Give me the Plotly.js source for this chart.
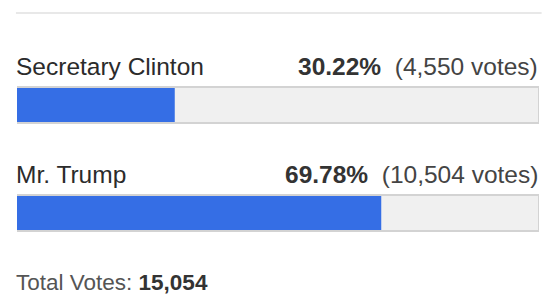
<!DOCTYPE html>
<html>
<head>
<meta charset="utf-8">
<script src="https://cdn.plot.ly/plotly-3.0.1.min.js"></script>
<style>html,body{margin:0;padding:0;background:#fff;}#chart{width:550px;height:306px;}</style>
</head>
<body>
<div id="chart"></div>
<script>
// Data
const candidates = ["Secretary Clinton", "Mr. Trump"];
const percents = [30.22, 69.78];
const votes = [4550, 10504];
const totalVotes = 15054;
const fullScale = [100, 100];

const yPos = candidates.map((c, i) => candidates.length - 1 - i); // Clinton on top
const FONT = "'Liberation Sans', Arial, Helvetica, sans-serif";
const fmt = n => n.toLocaleString("en-US");

const traces = [
  {
    type: "bar", orientation: "h",
    x: fullScale, y: yPos, width: 1/3,
    marker: {color: "#f0f0f0", line: {color: "#d3d3d3", width: 2}},
    hoverinfo: "skip", showlegend: false
  },
  {
    type: "bar", orientation: "h",
    x: percents, y: yPos, width: 0.315,
    marker: {color: "#356ee5", line: {width: 0}},
    text: candidates, hoverinfo: "text", textposition: "none", showlegend: false
  }
];

const annotations = [];
candidates.forEach((c, i) => {
  annotations.push({
    xref: "x", yref: "y", x: 0, y: yPos[i], xanchor: "left", yanchor: "bottom",
    xshift: -3, yshift: 23, showarrow: false, text: c,
    font: {family: FONT, size: 24.5, color: "#2b2b2b"}
  });
  annotations.push({
    xref: "x", yref: "y", x: 100, y: yPos[i], xanchor: "right", yanchor: "bottom",
    xshift: 1, yshift: 23, showarrow: false,
    text: "<b>" + percents[i].toFixed(2) + "%</b>\u00a0\u00a0<span style='color:#444'>(" + fmt(votes[i]) + " votes)</span>",
    font: {family: FONT, size: 24.5, color: "#333333"}
  });
});
annotations.push({
  xref: "paper", yref: "paper", x: 0, y: 0, xanchor: "left", yanchor: "bottom",
  xshift: -3, yshift: 9, showarrow: false,
  text: "Total Votes: <b><span style='color:#333'>" + fmt(totalVotes) + "</span></b>",
  font: {family: FONT, size: 22.5, color: "#555555"}
});

const layout = {
  width: 550, height: 306,
  margin: {l: 17, r: 11, t: 0, b: 0, pad: 0},
  paper_bgcolor: "#ffffff", plot_bgcolor: "#ffffff",
  barmode: "overlay",
  xaxis: {range: [0, 100], visible: false, fixedrange: true},
  yaxis: {range: [-0.8611, 1.9722], visible: false, fixedrange: true},
  annotations: annotations,
  shapes: [{
    type: "line", xref: "paper", yref: "paper",
    x0: -0.002, x1: 1.005, y0: 1 - 13/306, y1: 1 - 13/306,
    line: {color: "#e8e8e8", width: 2}
  }],
  showlegend: false
};

Plotly.newPlot("chart", traces, layout, {displayModeBar: false, staticPlot: true});
</script>
</body>
</html>
